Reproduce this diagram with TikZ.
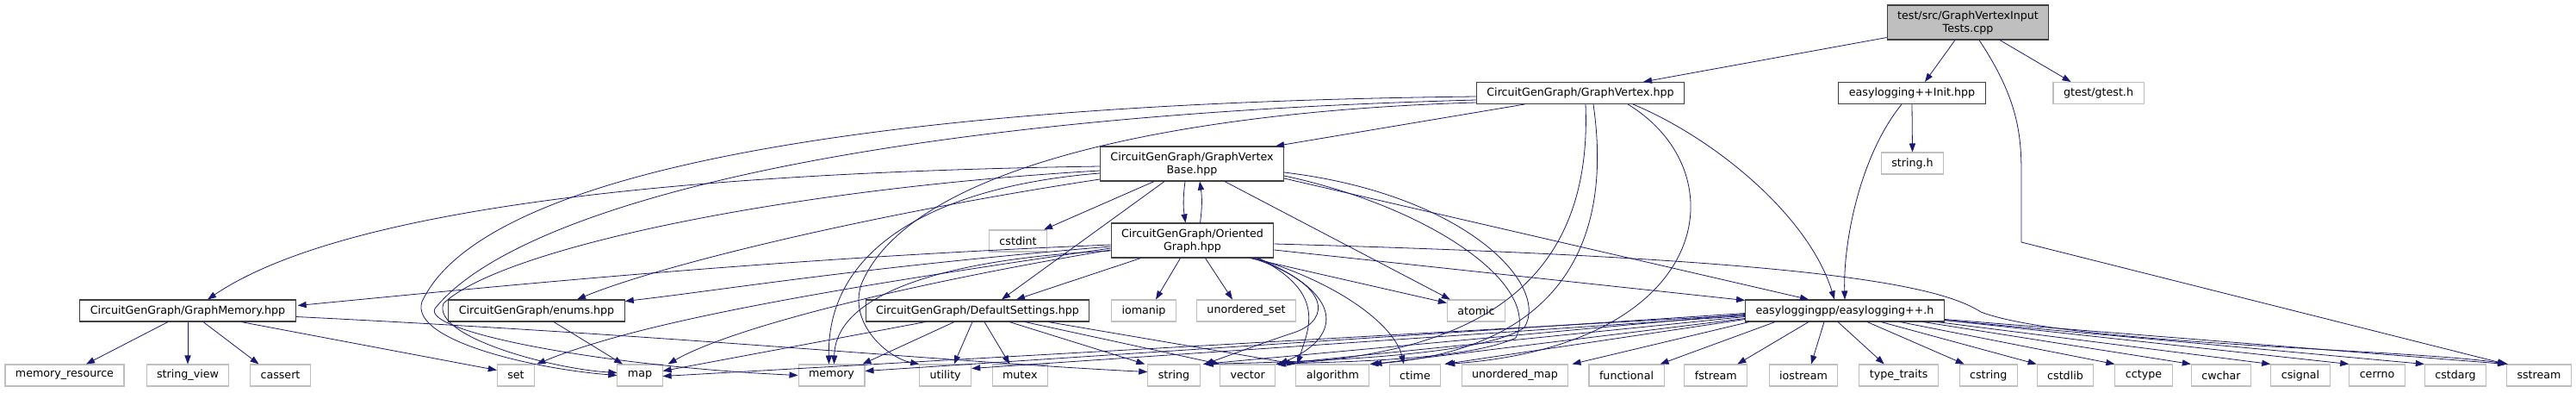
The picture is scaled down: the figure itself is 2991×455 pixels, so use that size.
\documentclass[tikz,border=0pt]{standalone}
\usepackage{fontspec}
\newfontfamily\dxfont{DejaVu Sans}
\usetikzlibrary{arrows.meta,calc}
\definecolor{edgeblue}{HTML}{191970}
\definecolor{boxline}{HTML}{404040}
\definecolor{extline}{HTML}{BFBFBF}
\definecolor{rootfill}{HTML}{BFBFBF}

\begin{document}
\begin{tikzpicture}[x=0.75pt,y=-0.75pt,>={Triangle[length=7.5pt,width=5.4pt]},
    hdr/.style={draw=boxline,fill=white,line width=0.8pt,font=\dxfont\fontsize{9.5}{11.25}\selectfont,
      inner xsep=9pt,inner ysep=2pt,minimum height=18.75pt,align=center},
    ext/.style={hdr,draw=extline},
    dep/.style={->,draw=edgeblue,line width=0.6pt}]
  \useasboundingbox (0,0) rectangle (2991,455);
  % files of the project
  \node[hdr,fill=rootfill,minimum height=30pt] (root) at (2285,26) {test/src/GraphVertexInput\\Tests.cpp};
  \node[hdr] (GV) at (1835,108) {CircuitGenGraph/GraphVertex.hpp};
  \node[hdr] (Init) at (2220,108) {easylogging++Init.hpp};
  \node[hdr,minimum height=30pt] (GVB) at (1384,190) {CircuitGenGraph/GraphVertex\\Base.hpp};
  \node[hdr,minimum height=30pt] (OG) at (1384.5,279) {CircuitGenGraph/Oriented\\Graph.hpp};
  \node[hdr] (GM) at (218,360.5) {CircuitGenGraph/GraphMemory.hpp};
  \node[hdr] (enums) at (623,360.5) {CircuitGenGraph/enums.hpp};
  \node[hdr] (DS) at (1135,360.5) {CircuitGenGraph/DefaultSettings.hpp};
  \node[hdr] (EL) at (2142,360.5) {easyloggingpp/easylogging++.h};
  % system headers
  \foreach \name/\x/\y/\lab in {gtest/2436.5/108/{gtest/gtest.h},strh/2220.5/189.5/string.h,
      cstdint/1182/279.5/cstdint,iomanip/1328/360.5/iomanip,uset/1447/360.5/unordered\_set,
      atomic/1714/360.5/atomic}
    \node[ext] (\name) at (\x,\y) {\lab};
  \foreach \name/\x/\lab in {memres/75/memory\_resource,strview/218/string\_view,cassert/325.5/cassert,
      set/599/set,map/743/map,memory/965.5/memory,utility/1097.7/utility,mutex/1184.3/mutex,
      string/1363/string,vector/1448.7/vector,algorithm/1547.3/algorithm,ctime/1643/ctime,
      umap/1759/unordered\_map,functional/1888.5/functional,fstream/1992.3/fstream,
      iostream/2094/iostream,typetraits/2204.7/type\_traits,cstring/2308.7/cstring,
      cstdlib/2398/cstdlib,cctype/2489/cctype,cwchar/2579/cwchar,csignal/2671/csignal,
      cerrno/2760/cerrno,cstdarg/2851/cstdarg,sstream/2948/sstream}
    \node[ext] (\name) at (\x,435.5) {\lab};

  % test file
  \draw[dep] ($(root.south west)+(0,-3)$) -- ($(GV.north)+(73,0)$);
  \draw[dep] ($(root.south)+(-15,0)$) -- ($(Init.north)+(15,0)$);
  \draw[dep] ($(root.south)+(37,0)$) -- ($(gtest.north)+(-32,0)$);
  \draw[dep] ($(root.south)+(13,0)$) .. controls (2340,110) and (2347,150) .. (2347,200)
    -- (2347,281) -- (sstream.north west);
  \draw[dep] (Init.south) -- (strh.north);
  \draw[dep] ($(Init.south)+(-12,0)$) .. controls (2160,180) and (2140,280) .. (EL.north);

  % GraphVertex.hpp
  \draw[dep] ($(GV.south)+(-65,0)$) -- ($(GVB.north east)+(-10,0)$);
  \draw[dep] ($(GV.south east)+(-60,0)$) .. controls (1990,160) and (2100,250) .. ($(EL.north)+(-12,0)$);
  \draw[dep] ($(GV.south east)+(-66,0)$) .. controls (2020,200) and (1990,400) .. ($(ctime.north east)+(6,0)$);
  \draw[dep] ($(GV.south)+(6,0)$) .. controls (1850,340) and (1700,410) .. (vector.north east);
  \draw[dep] ($(GV.south)+(15,0)$) .. controls (1880,330) and (1760,410) .. (algorithm.north east);
  \draw[dep] ($(GV.west)+(0,4)$) .. controls (1000,120) and (560,200) .. (490,350)
    .. controls (475,395) and (620,428) .. (map.west);
  \draw[dep] ($(GV.west)+(0,8)$) .. controls (1000,135) and (600,240) .. (505,358)
    .. controls (490,385) and (700,425) .. (memory.west);
  \draw[dep] ($(GV.west)+(0,11)$) .. controls (1400,128) and (1060,185) .. (1000,330)
    .. controls (985,375) and (1030,415) .. (utility.north west);

  % GraphVertexBase.hpp
  \draw[dep] ($(GVB.west)+(0,3)$) .. controls (800,200) and (400,240) .. ($(GM.north)+(23,0)$);
  \draw[dep] ($(GVB.west)+(0,8)$) .. controls (900,220) and (580,290) .. (515,352)
    .. controls (500,390) and (640,428) .. ($(map.west)+(0,-3)$);
  \draw[dep] ($(GVB.west)+(0,11)$) .. controls (1100,215) and (960,280) .. ($(memory.north)+(-3,0)$);
  \draw[dep] ($(GVB.west)+(0,18)$) .. controls (1000,250) and (760,310) .. ($(enums.north)+(47,0)$);
  \draw[dep] ($(GVB.south)+(-44,0)$) -- ($(cstdint.north east)+(-4,0)$);
  \draw[dep] ($(GVB.south)+(-32,0)$) -- ($(DS.north)+(28,0)$);
  \draw[dep] ($(GVB.south)+(-8,0)$) to[bend right=8] ($(OG.north)+(-8,0)$);
  \draw[dep] ($(GVB.south)+(38,0)$) -- ($(atomic.north west)+(4,0)$);
  \draw[dep] ($(GVB.east)+(0,17)$) -- ($(EL.north)+(-42,0)$);
  \draw[dep] ($(GVB.east)+(0,10)$) .. controls (1700,225) and (1800,330) .. (1770,380)
    .. controls (1720,415) and (1500,420) .. ($(string.north east)+(5,0)$);
  \draw[dep] ($(GVB.east)+(0,14)$) .. controls (1660,240) and (1790,330) .. (1760,392)
    .. controls (1700,420) and (1530,420) .. ($(vector.north east)+(2,0)$);

  % OrientedGraph.hpp
  \draw[dep] ($(OG.north)+(9,0)$) to[bend right=8] ($(GVB.south)+(9,0)$);
  \draw[dep] ($(OG.west)+(0,5)$) .. controls (900,300) and (600,330) .. ($(GM.east)+(2,-6)$);
  \draw[dep] ($(OG.west)+(0,7)$) .. controls (1000,310) and (850,335) .. ($(enums.east)+(0,-11)$);
  \draw[dep] ($(OG.west)+(0,9)$) .. controls (1000,330) and (750,370) .. ($(set.north east)+(2,0)$);
  \draw[dep] ($(OG.west)+(0,11)$) .. controls (1050,330) and (850,380) .. ($(map.north east)+(6,0)$);
  \draw[dep] ($(OG.west)+(0,12)$) .. controls (1100,300) and (970,340) .. ($(memory.north)+(3,0)$);
  \draw[dep] ($(OG.south)+(-60,0)$) -- ($(DS.north)+(45,0)$);
  \draw[dep] ($(OG.south)+(-14,0)$) -- ($(iomanip.north)+(14,0)$);
  \draw[dep] ($(OG.south)+(15,0)$) -- ($(uset.north)+(-16,0)$);
  \draw[dep] ($(OG.south east)+(-28,0)$) -- ($(atomic.west)+(0,-9)$);
  \draw[dep] ($(OG.south east)+(-22,0)$) .. controls (1560,330) and (1620,380) .. ($(ctime.north)+(-13,0)$);
  \draw[dep] ($(OG.south east)+(-25,0)$) .. controls (1545,330) and (1545,370) .. (1505,385)
    .. controls (1460,400) and (1420,415) .. ($(string.north east)+(5,0)$);
  \draw[dep] ($(OG.south east)+(-20,0)$) .. controls (1560,340) and (1560,390) .. ($(vector.north east)+(4,0)$);
  \draw[dep] ($(OG.south east)+(-18,0)$) .. controls (1540,340) and (1520,380) .. ($(algorithm.north west)+(2,0)$);
  \draw[dep] ($(OG.east)+(0,4)$) .. controls (2100,300) and (2250,330) .. (2300,362)
    .. controls (2400,400) and (2800,405) .. ($(sstream.north west)+(2,0)$);
  \draw[dep] ($(OG.east)+(0,11)$) -- ($(EL.west)+(0,-12)$);

  % DefaultSettings.hpp
  \draw[dep] ($(DS.south west)+(70,0)$) -- ($(map.east)+(0,-5)$);
  \draw[dep] ($(DS.south)+(-27,0)$) -- ($(memory.north east)+(-3,0)$);
  \draw[dep] ($(DS.south)+(-6,0)$) -- ($(utility.north)+(10,0)$);
  \draw[dep] ($(DS.south)+(8,0)$) -- ($(mutex.north)+(-12,0)$);
  \draw[dep] ($(DS.south)+(37,0)$) -- ($(string.north west)+(-3,0)$);
  \draw[dep] ($(DS.south)+(55,0)$) -- (vector.north west);
  \draw[dep] ($(DS.south)+(82,0)$) -- (algorithm.north west);

  % GraphMemory.hpp and enums.hpp
  \draw[dep] ($(GM.south)+(-23,0)$) -- ($(memres.north)+(25,0)$);
  \draw[dep] (GM.south) -- (strview.north);
  \draw[dep] ($(GM.south)+(18,0)$) -- ($(cassert.north)+(-25,0)$);
  \draw[dep] ($(GM.south)+(62,0)$) -- ($(set.west)+(0,-6)$);
  \draw[dep] ($(GM.east)+(0,7)$) .. controls (800,390) and (1100,420) .. ($(string.west)+(0,-4)$);
  \draw[dep] ($(enums.south)+(20,0)$) -- ($(map.north)+(-20,0)$);

  % easylogging++.h
  \draw[dep] ($(EL.west)+(0,5)$) -- ($(map.east)+(0,1)$);
  \draw[dep] ($(EL.west)+(0,3)$) -- ($(memory.east)+(0,-5)$);
  \draw[dep] ($(EL.west)+(0,6)$) -- ($(utility.east)+(0,-8)$);
  \draw[dep] ($(EL.west)+(0,4)$) -- ($(string.north east)+(3,0)$);
  \draw[dep] ($(EL.west)+(0,7)$) -- (vector.north east);
  \draw[dep] ($(EL.west)+(0,9)$) -- ($(algorithm.north east)+(4,0)$);
  \draw[dep] ($(EL.west)+(0,10)$) -- ($(ctime.north east)+(4,0)$);
  \draw[dep] ($(EL.south west)+(5,0)$) -- ($(umap.north east)+(4,0)$);
  \draw[dep] ($(EL.south west)+(35,0)$) -- ($(functional.north east)+(-5,0)$);
  \draw[dep] ($(EL.south)+(-42,0)$) -- ($(fstream.north)+(25,0)$);
  \draw[dep] ($(EL.south)+(-24,0)$) -- ($(iostream.north)+(9,0)$);
  \draw[dep] ($(EL.south)+(-8,0)$) -- ($(typetraits.north)+(-17,0)$);
  \draw[dep] ($(EL.south)+(26,0)$) -- ($(cstring.north)+(-28,0)$);
  \draw[dep] ($(EL.south)+(42,0)$) -- (cstdlib.north west);
  \draw[dep] ($(EL.south)+(64,0)$) -- (cctype.north west);
  \draw[dep] ($(EL.south east)+(-25,0)$) -- (cwchar.north west);
  \draw[dep] ($(EL.south east)+(-9,0)$) -- (csignal.north west);
  \draw[dep] ($(EL.east)+(0,11)$) -- (cerrno.north west);
  \draw[dep] ($(EL.east)+(0,11)$) -- (cstdarg.north west);
  \draw[dep] ($(EL.east)+(0,10)$) -- (sstream.north west);
\end{tikzpicture}
\end{document}
